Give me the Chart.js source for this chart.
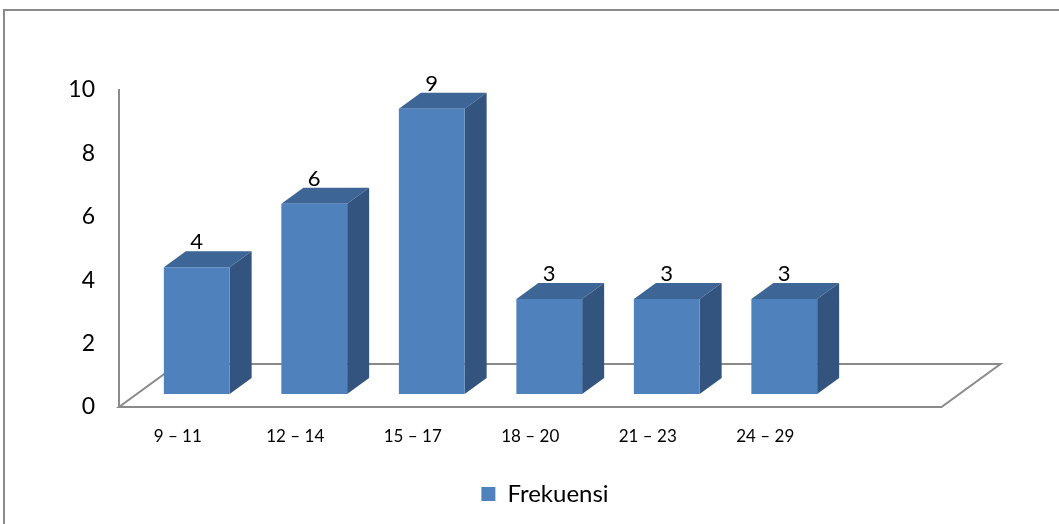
<!DOCTYPE html>
<html>
<head>
<meta charset="utf-8">
<script src="https://cdn.jsdelivr.net/npm/chart.js@4"></script>
<style>
  body { margin: 0; background: #fff; overflow: hidden; }
  canvas { display: block; }
</style>
</head>
<body>
<canvas id="bar-chart" width="1059" height="524"></canvas>
<script>
// data
const categories = ['9 – 11', '12 – 14', '15 – 17', '18 – 20', '21 – 23', '24 – 29'];
const frekuensi = [4, 6, 9, 3, 3, 3];
const yTicks = [0, 2, 4, 6, 8, 10];

const FONT = 'Lato, "Noto Sans", sans-serif';
const GRAY = '#8a8a8a';

// fake 3d: bars sit a bit behind the front plane of the floor
const rowShift = { x: 19, y: -13 };
const barDepth = { x: 22, y: -16 };
const floorDepth = { x: 59, y: -43 };

const fake3d = {
  id: 'fake3d',
  beforeDraw(chart) {
    const ctx = chart.ctx;
    ctx.save();
    ctx.strokeStyle = GRAY;
    ctx.lineWidth = 2;
    ctx.strokeRect(4, 10, 1200, 700);
    ctx.restore();
  },
  beforeDatasetsDraw(chart) {
    const ctx = chart.ctx;
    const area = chart.chartArea;
    const x = chart.scales.x;
    const step = x.getPixelForValue(1) - x.getPixelForValue(0);
    const y0 = chart.scales.y.getPixelForValue(0);
    const left = area.left, right = area.right + step;
    // floor
    ctx.save();
    ctx.strokeStyle = GRAY;
    ctx.lineWidth = 2;
    ctx.beginPath();
    ctx.moveTo(left, y0);
    ctx.lineTo(right, y0);
    ctx.lineTo(right + floorDepth.x, y0 + floorDepth.y);
    ctx.lineTo(left + floorDepth.x, y0 + floorDepth.y);
    ctx.closePath();
    ctx.stroke();
    ctx.restore();

    // top + side faces, then let chart.js draw the front face shifted
    ctx.save();
    ctx.translate(rowShift.x, rowShift.y);
    chart.getDatasetMeta(0).data.forEach(bar => {
      const { x: cx, y: top, base, width } = bar.getProps(['x', 'y', 'base', 'width'], true);
      const l = cx - width / 2, r = cx + width / 2;
      ctx.fillStyle = '#3d6696';
      ctx.beginPath();
      ctx.moveTo(l, top);
      ctx.lineTo(l + barDepth.x, top + barDepth.y);
      ctx.lineTo(r + barDepth.x, top + barDepth.y);
      ctx.lineTo(r, top);
      ctx.closePath();
      ctx.fill();
      ctx.fillStyle = '#33547f';
      ctx.beginPath();
      ctx.moveTo(r, top);
      ctx.lineTo(r + barDepth.x, top + barDepth.y);
      ctx.lineTo(r + barDepth.x, base + barDepth.y);
      ctx.lineTo(r, base);
      ctx.closePath();
      ctx.fill();
    });
  },
  afterDatasetsDraw(chart) {
    const ctx = chart.ctx;
    ctx.restore();
    ctx.save();
    ctx.fillStyle = '#000';
    ctx.font = '22px ' + FONT;
    ctx.textAlign = 'center';
    ctx.textBaseline = 'bottom';
    const meta = chart.getDatasetMeta(0);
    meta.data.forEach((bar, i) => {
      const px = bar.x + rowShift.x;
      const py = bar.y + rowShift.y + barDepth.y + 2;
      ctx.fillText(String(frekuensi[i]), px, py);
    });
    ctx.restore();
  }
};

new Chart(document.getElementById('bar-chart'), {
  type: 'bar',
  data: {
    labels: categories,
    datasets: [{
      label: 'Frekuensi',
      data: frekuensi,
      backgroundColor: '#4f81bd',
      borderWidth: 0,
      barPercentage: 1,
      categoryPercentage: 0.56,
      clip: false
    }]
  },
  options: {
    responsive: false,
    animation: false,
    layout: { padding: { left: 31, top: 90, right: 0, bottom: 8 } },
    plugins: {
      tooltip: { enabled: false },
      legend: {
        position: 'bottom',
        labels: {
          color: '#000',
          font: { family: FONT, size: 24 },
          boxWidth: 14,
          boxHeight: 14,
          padding: 10
        }
      }
    },
    scales: {
      x: {
        grid: { display: false, drawTicks: false },
        border: { display: false },
        ticks: { color: '#000', font: { family: FONT, size: 17 }, padding: 19, maxRotation: 0 },
        afterFit: s => { s.height = 65; }
      },
      y: {
        min: 0,
        max: 10,
        grid: { display: false, drawTicks: false },
        border: { display: true, color: GRAY, width: 2 },
        ticks: { color: '#000', font: { family: FONT, size: 23 }, padding: 24 },
        afterBuildTicks: s => { s.ticks = yTicks.map(v => ({ value: v })); },
        afterFit: s => { s.width = 88; }
      },
      spare: {
        position: 'right',
        display: true,
        grid: { display: false, drawTicks: false },
        border: { display: false },
        ticks: { display: false },
        afterFit: s => { s.width = 235; }
      }
    }
  },
  plugins: [fake3d]
});
</script>
</body>
</html>
